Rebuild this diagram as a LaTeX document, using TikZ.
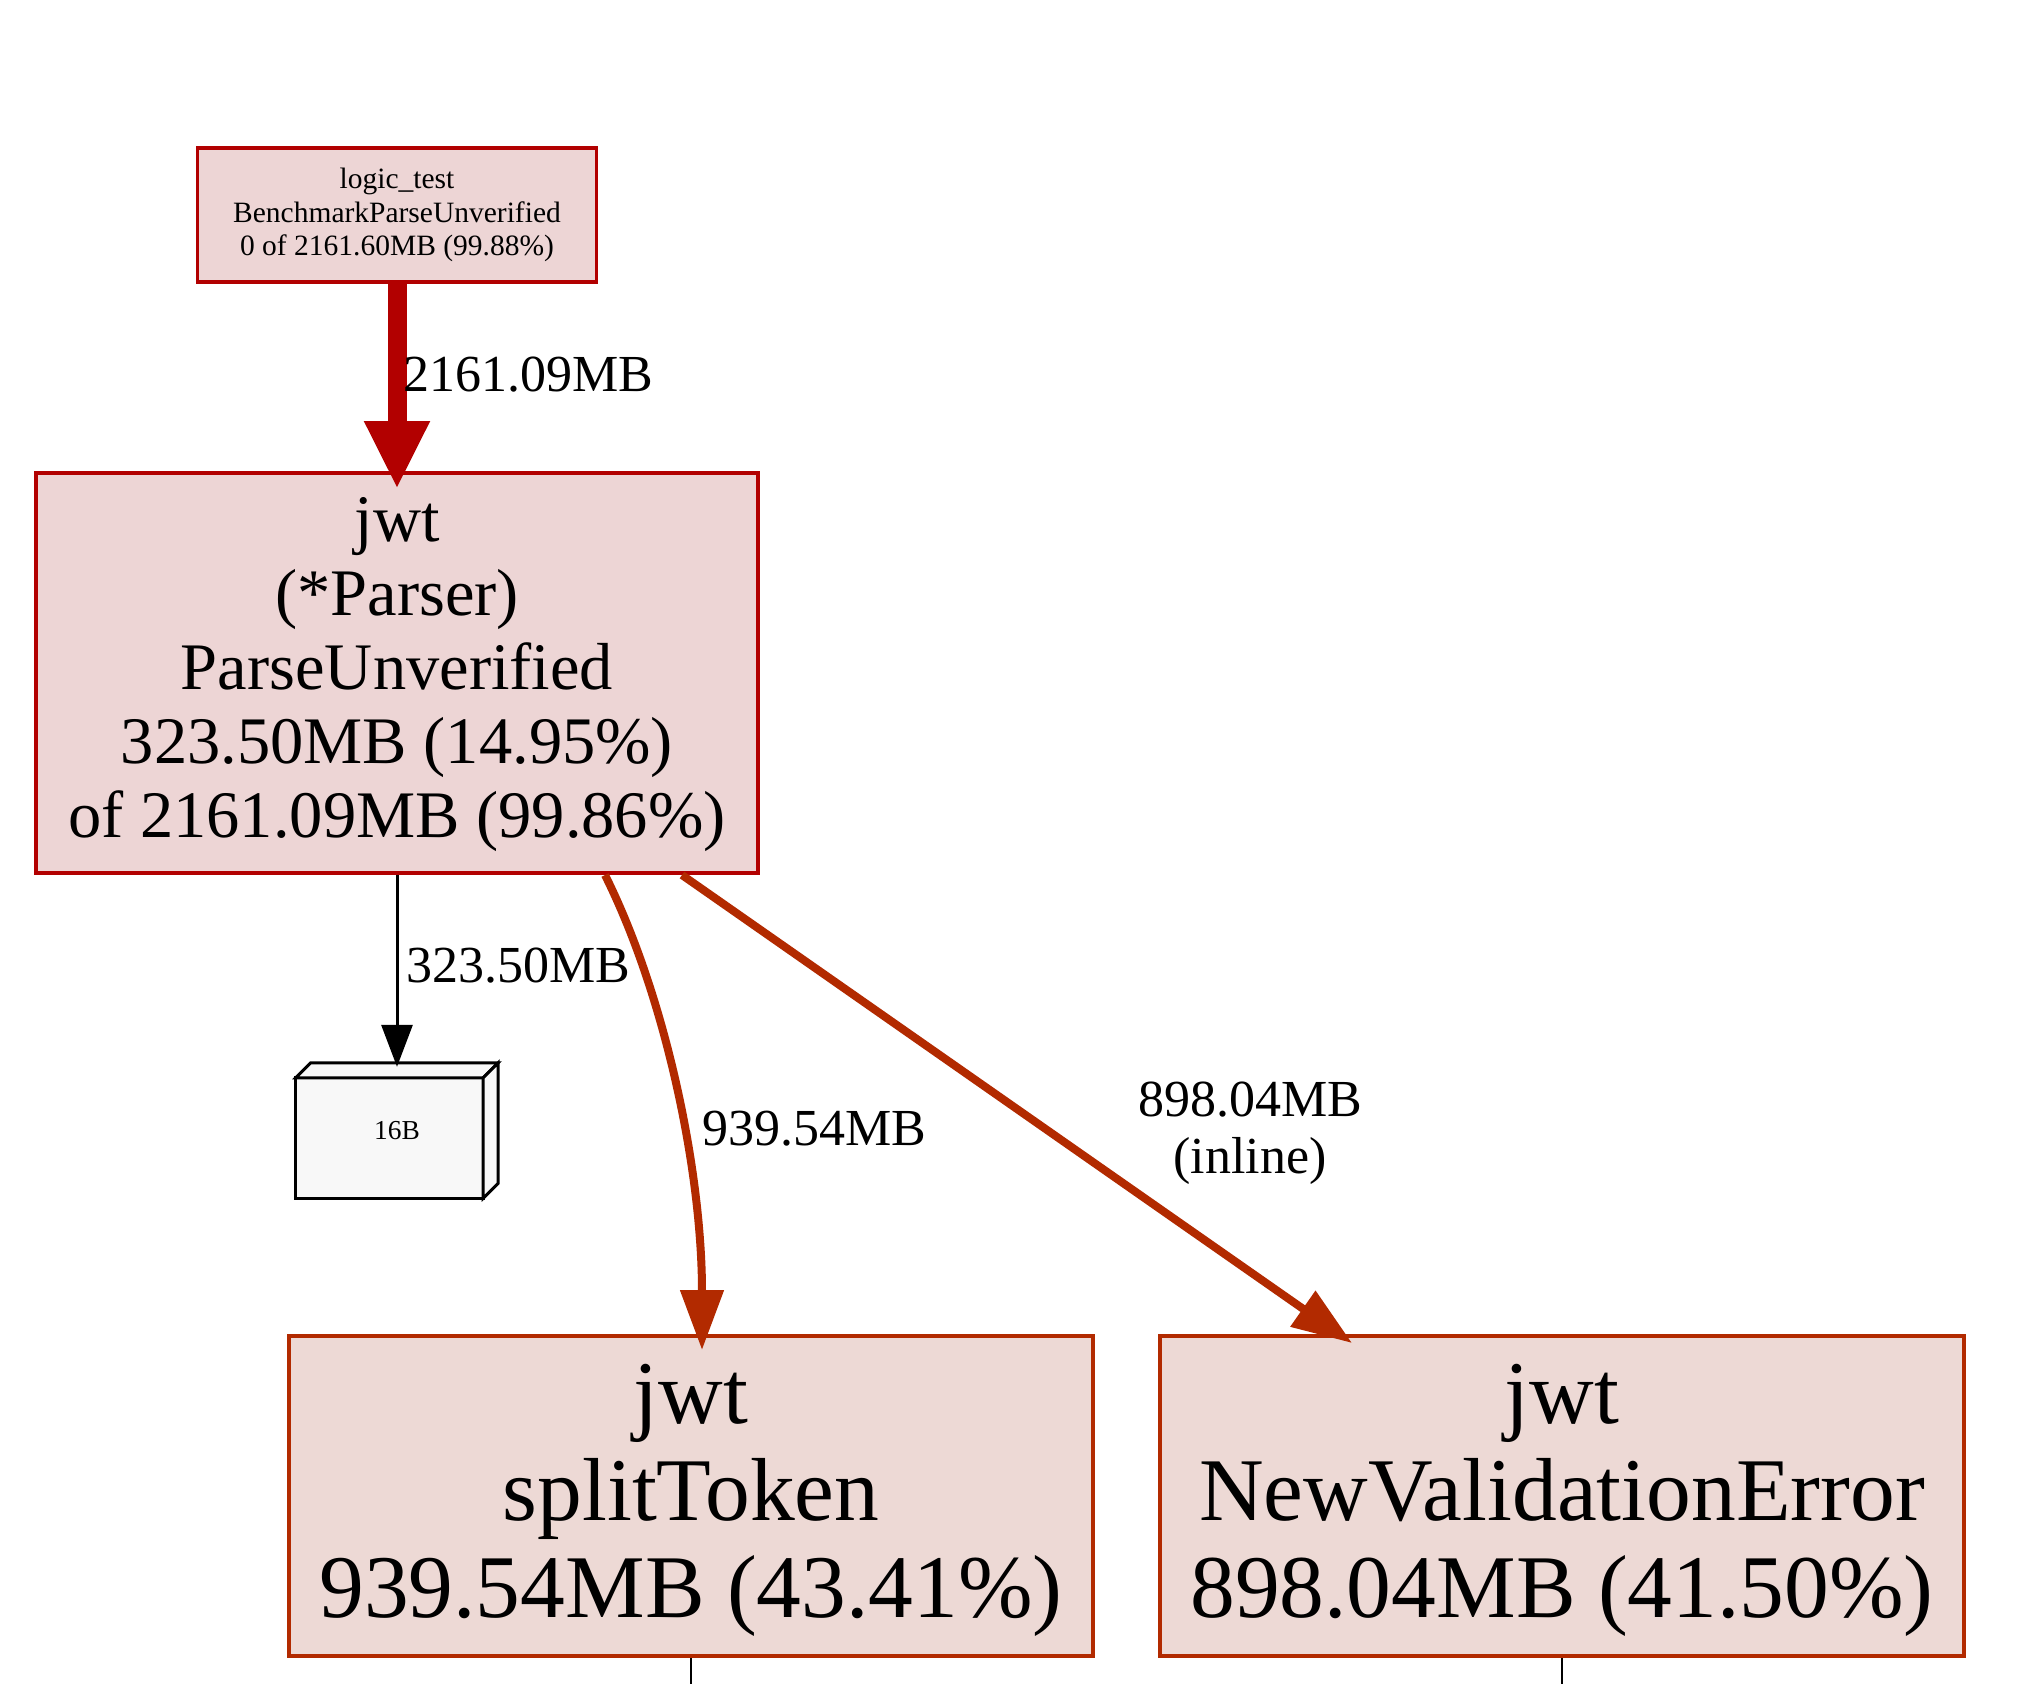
\documentclass[tikz,border=0pt]{standalone}
\usepackage{fontspec}
\setmainfont{Liberation Serif}
\usetikzlibrary{arrows.meta,backgrounds}
\definecolor{redA}{HTML}{B20000}
\definecolor{redB}{HTML}{B22A00}
\definecolor{fillA}{HTML}{EDD5D5}
\definecolor{fillB}{HTML}{EDD9D5}
\definecolor{boxgray}{HTML}{F8F8F8}
\begin{document}
\begin{tikzpicture}[x=1pt,y=-1pt,
  fnode/.style={draw, rectangle, inner sep=0pt, align=center, text=black},
  boxtext/.style={inner sep=0pt, align=center, text=black},
  lbl/.style={inner sep=0pt, align=center, font=\fontsize{52}{57}\selectfont},
  hotedge/.style={redB, line width=8pt, -{Triangle[length=60pt,width=42pt]}}]
\useasboundingbox (0,0) rectangle (2039,1684);

\node[fnode, draw=redA, fill=fillA, line width=3.5pt, minimum width=399pt, minimum height=134pt,
  font=\fontsize{29.5}{33.5}\selectfont] (top) at (397,215)
  {logic\_test\\BenchmarkParseUnverified\\0 of 2161.60MB (99.88\%)};

\node[fnode, draw=redA, fill=fillA, line width=4pt, minimum width=722pt, minimum height=400pt,
  label={[boxtext, yshift=-2pt, font=\fontsize{66.5}{74}\selectfont]center:{jwt\\(*Parser)\\ParseUnverified\\323.50MB (14.95\%)\\of 2161.09MB (99.86\%)}}]
  (pu) at (397,673) {};

\node[inner sep=0pt, minimum width=202pt, minimum height=135pt,
  font=\fontsize{27.4}{30}\selectfont] (b16) at (397,1130.5) {16B};
\begin{scope}[on background layer]
  \fill[white] (0,0) rectangle (2039,1684);
  \filldraw[fill=boxgray, draw=black, line width=3pt, line join=miter]
    (b16.south west) rectangle ([shift={(-15,15)}]b16.north east);
  \filldraw[fill=boxgray, draw=black, line width=3pt, line join=miter]
    ([shift={(0,15)}]b16.north west) -- ([shift={(15,0)}]b16.north west) -- (b16.north east)
    -- ([shift={(-15,15)}]b16.north east) -- cycle;
  \filldraw[fill=boxgray, draw=black, line width=3pt, line join=miter]
    ([shift={(-15,15)}]b16.north east) -- (b16.north east) -- ([shift={(0,-15)}]b16.south east)
    -- ([shift={(-15,0)}]b16.south east) -- cycle;
\end{scope}

\node[fnode, draw=redB, fill=fillB, line width=4pt, minimum width=804pt, minimum height=320pt,
  label={[boxtext, yshift=-4.5pt, font=\fontsize{89.5}{97}\selectfont]center:{jwt\\splitToken\\939.54MB (43.41\%)}}]
  (split) at (691,1496) {};
\node[fnode, draw=redB, fill=fillB, line width=4pt, minimum width=804pt, minimum height=320pt,
  label={[boxtext, yshift=-4.5pt, font=\fontsize{89.5}{97}\selectfont]center:{jwt\\NewValidationError\\898.04MB (41.50\%)}}]
  (nve) at (1562,1496) {};

% edges
\draw[redA, line width=19pt, -{Triangle[length=68pt,width=61pt]}]
  (top.south) -- ([shift={(0,18)}]pu.north);
\node[lbl, anchor=west] (l1) at (403,375) {2161.09MB};

\draw[black, line width=3pt, -{Triangle[length=42pt,width=31pt]}]
  (pu.south) -- ([shift={(0,4)}]b16.north);
\node[lbl, anchor=west] (l2) at (406,966) {323.50MB};

\draw[hotedge] ([shift={(208,0)}]pu.south) .. controls (665,995) and (702,1170) .. ([shift={(11,16)}]split.north);
\node[lbl, anchor=west] (l3) at (702,1129) {939.54MB};

\draw[hotedge] ([shift={(285,0)}]pu.south) -- ([shift={(-210,9)}]nve.north);
\node[lbl] (l4) at (1250,1133) {898.04MB\\(inline)};

% lines leaving the bottom
\coordinate (sbot) at (691,1684);
\coordinate (nbot) at (1562,1684);
\draw[black, line width=2pt] (split.south) -- (sbot);
\draw[black, line width=2pt] (nve.south) -- (nbot);
\end{tikzpicture}
\end{document}
